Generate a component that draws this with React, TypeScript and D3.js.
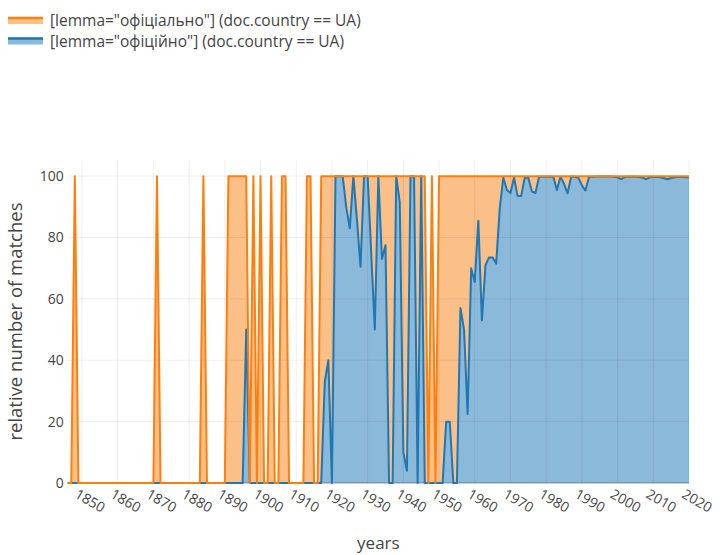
import React, { useEffect, useRef } from 'react';
import * as d3 from 'd3';

// one value per year, 1846 .. 2020
const years = d3.range(1846, 2021);

const seriesNames = [
  '[lemma="офіціально"] (doc.country == UA)',
  '[lemma="офіційно"] (doc.country == UA)',
];

// офіціально
const officialnoValues = [
  0, 0, 100, 0, // 1846-1849
  0, 0, 0, 0, 0, 0, 0, 0, 0, 0, // 1850s
  0, 0, 0, 0, 0, 0, 0, 0, 0, 0, // 1860s
  0, 100, 0, 0, 0, 0, 0, 0, 0, 0, // 1870s
  0, 0, 0, 0, 100, 0, 0, 0, 0, 0, // 1880s
  0, 100, 100, 100, 100, 100, 100, 0, 100, 0, // 1890s
  100, 0, 0, 100, 0, 0, 100, 100, 0, 0, // 1900s
  0, 0, 0, 100, 100, 0, 0, 100, 100, 100, // 1910s
  100, 100, 100, 100, 100, 100, 100, 100, 100, 100, // 1920s
  100, 100, 100, 100, 100, 100, 100, 100, 100, 100, // 1930s
  100, 100, 100, 100, 100, 100, 100, 0, 100, 0, // 1940s
  100, 100, 100, 100, 100, 100, 100, 100, 100, 100, // 1950s
  100, 100, 100, 100, 100, 100, 100, 100, 100, 100, // 1960s
  100, 100, 100, 100, 100, 100, 100, 100, 100, 100, // 1970s
  100, 100, 100, 100, 100, 100, 100, 100, 100, 100, // 1980s
  100, 100, 100, 100, 100, 100, 100, 100, 100, 100, // 1990s
  100, 100, 100, 100, 100, 100, 100, 100, 100, 100, // 2000s
  100, 100, 100, 100, 100, 100, 100, 100, 100, 100, // 2010s
  100, // 2020
];

// офіційно
const officiinoValues = [
  0, 0, 0, 0, // 1846-1849
  0, 0, 0, 0, 0, 0, 0, 0, 0, 0, // 1850s
  0, 0, 0, 0, 0, 0, 0, 0, 0, 0, // 1860s
  0, 0, 0, 0, 0, 0, 0, 0, 0, 0, // 1870s
  0, 0, 0, 0, 0, 0, 0, 0, 0, 0, // 1880s
  0, 0, 0, 0, 0, 0, 50, 0, 0, 0, // 1890s
  0, 0, 0, 0, 0, 0, 0, 0, 0, 0, // 1900s
  0, 0, 0, 0, 0, 0, 0, 0, 33, 40, // 1910s
  0, 100, 100, 100, 90, 83, 100, 86, 70.5, 100, // 1920s
  100, 75, 50, 100, 73, 77.5, 0, 0, 100, 91.5, // 1930s
  10, 4, 100, 100, 0, 100, 0, 0, 0, 0, // 1940s
  0, 0, 20, 20, 0, 0, 57, 50, 22.5, 70, // 1950s
  65.5, 85.5, 53, 71, 73.5, 73.5, 71.5, 89.5, 99.5, 95.5, // 1960s
  94.5, 99.5, 93.5, 93.5, 99.5, 99.5, 95, 94.5, 99.8, 99.8, // 1970s
  99.8, 99.8, 99.8, 95.5, 99.8, 97.5, 94.4, 99.8, 99.8, 99.5, // 1980s
  97, 95.3, 99.8, 99.8, 99.9, 99.9, 99.9, 99.9, 99.9, 99.8, // 1990s
  99.6, 99, 99.7, 99.8, 99.8, 99.8, 99.7, 99.5, 99, 99.6, // 2000s
  99.7, 99.7, 99.6, 99.3, 99, 99.4, 99.6, 99.7, 99.7, 99.6, // 2010s
  99.6, // 2020
];

const xTicks = [1850, 1860, 1870, 1880, 1890, 1900, 1910, 1920, 1930, 1940,
  1950, 1960, 1970, 1980, 1990, 2000, 2010, 2020];
const yTicks = [0, 20, 40, 60, 80, 100];

const colors = {
  orangeLine: '#ff7f0e',
  orangeFill: '#fbbf88',
  blueLine: '#1f77b4',
  blueFill: '#8bb9da',
};

const FONT = '"Open Sans", verdana, arial, sans-serif';

export default function App() {
  const ref = useRef<SVGSVGElement>(null);

  useEffect(() => {
    const width = 720;
    const height = 555;
    const plot = { left: 67.7, right: 689, top: 160, bottom: 483 };

    const svg = d3.select(ref.current);
    svg.selectAll('*').remove();
    svg.attr('width', width).attr('height', height);

    const x = d3.scaleLinear().domain([1846, 2020]).range([plot.left, plot.right]);
    const y = d3.scaleLinear().domain([0, 105.26]).range([plot.bottom, plot.top]);

    const orange = years.map((yr, i) => ({ yr, v: officialnoValues[i] }));
    const blue = years.map((yr, i) => ({ yr, v: officiinoValues[i] }));

    const area = d3.area<{ yr: number; v: number }>()
      .x(d => x(d.yr))
      .y0(y(0))
      .y1(d => y(d.v));
    const line = d3.line<{ yr: number; v: number }>()
      .x(d => x(d.yr))
      .y(d => y(d.v));

    // fills
    svg.append('path').datum(orange)
      .attr('d', area).attr('fill', colors.orangeFill);
    svg.append('path').datum(blue)
      .attr('d', area).attr('fill', colors.blueFill);

    // grid on top of the fills, faint
    const grid = svg.append('g').attr('stroke', 'rgba(0,0,0,0.065)').attr('stroke-width', 1);
    grid.selectAll('.gx').data(xTicks).enter().append('line')
      .attr('x1', d => x(d)).attr('x2', d => x(d))
      .attr('y1', plot.top).attr('y2', plot.bottom);
    grid.selectAll('.gy').data(yTicks.filter(t => t > 0)).enter().append('line')
      .attr('x1', plot.left).attr('x2', plot.right)
      .attr('y1', d => y(d)).attr('y2', d => y(d));

    // zero line
    svg.append('line')
      .attr('x1', plot.left).attr('x2', plot.right)
      .attr('y1', y(0)).attr('y2', y(0))
      .attr('stroke', 'rgba(68,68,68,0.55)').attr('stroke-width', 1);

    // lines
    svg.append('path').datum(blue)
      .attr('d', line).attr('fill', 'none')
      .attr('stroke', colors.blueLine).attr('stroke-width', 2)
      .attr('stroke-linejoin', 'round');
    svg.append('path').datum(orange)
      .attr('d', line).attr('fill', 'none')
      .attr('stroke', colors.orangeLine).attr('stroke-width', 2)
      .attr('stroke-linejoin', 'round');

    // y tick labels
    svg.append('g').selectAll('text').data(yTicks).enter().append('text')
      .attr('x', plot.left - 4)
      .attr('y', d => y(d))
      .attr('dy', '0.35em')
      .attr('text-anchor', 'end')
      .attr('font-family', FONT).attr('font-size', 14).attr('fill', '#444')
      .text(d => d);

    // x tick labels, rotated
    svg.append('g').selectAll('text').data(xTicks).enter().append('text')
      .attr('transform', d => 'translate(' + (x(d) - 3) + ',' + (plot.bottom + 5) + ') rotate(30)')
      .attr('dy', '0.75em')
      .attr('text-anchor', 'start')
      .attr('font-family', FONT).attr('font-size', 14).attr('fill', '#444')
      .text(d => d);

    // axis titles
    svg.append('text')
      .attr('x', (plot.left + plot.right) / 2).attr('y', 549)
      .attr('text-anchor', 'middle')
      .attr('font-family', FONT).attr('font-size', 17).attr('fill', '#444')
      .text('years');
    svg.append('text')
      .attr('transform', 'translate(22,' + (plot.top + plot.bottom) / 2 + ') rotate(-90)')
      .attr('text-anchor', 'middle')
      .attr('font-family', FONT).attr('font-size', 18.5).attr('fill', '#444')
      .text('relative number of matches');

    // legend
    const legend = svg.append('g');
    const items = [
      { name: seriesNames[0], line: colors.orangeLine, fill: colors.orangeFill },
      { name: seriesNames[1], line: colors.blueLine, fill: colors.blueFill },
    ];
    items.forEach((it, i) => {
      const cy = 21 + i * 20.5;
      legend.append('rect')
        .attr('x', 8).attr('y', cy - 4).attr('width', 35).attr('height', 7)
        .attr('fill', it.fill);
      legend.append('line')
        .attr('x1', 8).attr('x2', 43).attr('y1', cy - 3).attr('y2', cy - 3)
        .attr('stroke', it.line).attr('stroke-width', 2.5);
      legend.append('text')
        .attr('x', 50).attr('y', cy).attr('dy', '0.35em')
        .attr('font-family', FONT).attr('font-size', 15.5).attr('fill', '#444')
        .text(it.name);
    });
  }, []);

  return (
    <svg ref={ref} style={{ position: 'absolute', left: 0, top: 0, background: '#fff' }} />
  );
}
